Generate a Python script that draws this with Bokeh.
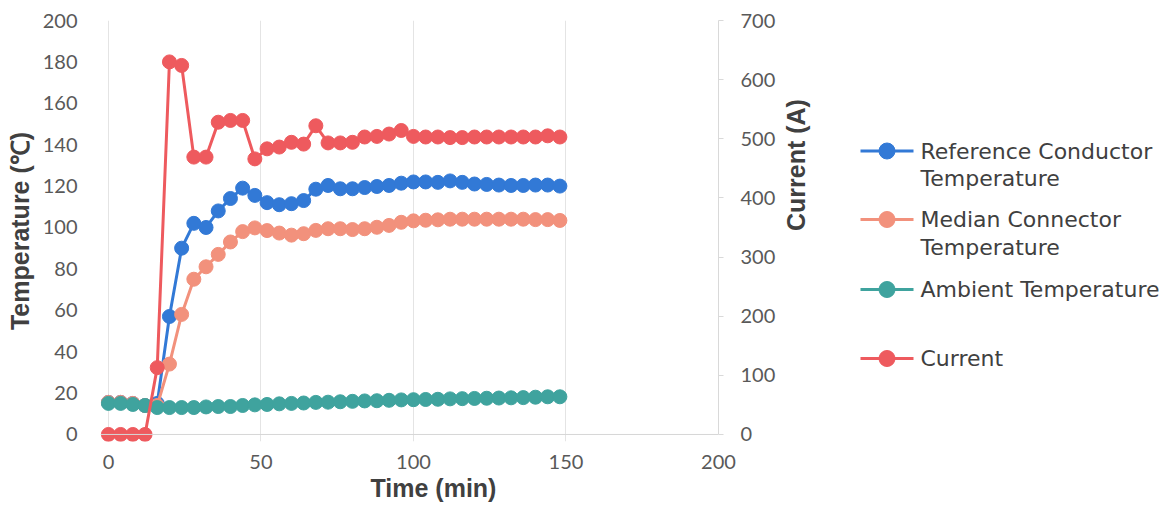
import math
from bokeh.plotting import figure
from bokeh.models import Range1d, LinearAxis, Span, Title, FixedTicker, ColumnDataSource
from bokeh.layouts import row
from bokeh.embed import file_html
from bokeh.resources import INLINE
from bokeh.core.properties import value

# ---------------- data ----------------
time_min = [0, 4, 8, 12, 16, 20, 24, 28, 32, 36, 40, 44, 48, 52, 56, 60, 64, 68, 72,
            76, 80, 84, 88, 92, 96, 100, 104, 108, 112, 116, 120, 124, 128, 132, 136,
            140, 144, 148]
ref_conductor = [15.5, 15.5, 15, 14, 15, 57, 90, 102, 100, 108, 114, 119, 115.5, 112,
                 111, 111.5, 113, 118.5, 120.3, 118.7, 118.7, 119.3, 119.8, 120.3, 121.4,
                 122, 122, 121.8, 122.5, 121.8, 121, 120.8, 120.5, 120.3, 120.3, 120.5,
                 120.5, 120]
median_connector = [15.5, 15.5, 15, 14, 14, 34, 58, 75, 81, 87, 93, 98, 99.8, 98.5, 97.3,
                    96.3, 97, 98.6, 99.4, 99.4, 99, 99.4, 100.1, 101, 102.5, 103.2, 103.5,
                    103.7, 104, 104, 104, 104, 104, 104, 104, 103.8, 103.8, 103.4]
ambient = [15, 15, 14.5, 14, 13, 13, 13, 13, 13.3, 13.5, 13.5, 14, 14.3, 14.5, 14.8, 15,
           15.2, 15.5, 15.6, 15.8, 16, 16.2, 16.3, 16.5, 16.7, 16.8, 16.9, 17, 17.2, 17.3,
           17.4, 17.5, 17.6, 17.7, 17.8, 18, 18.2, 18.2]
current = [0, 0, 0, 0, 113, 630, 624, 469, 469, 528, 531, 531, 466, 483, 486, 494, 491,
           522, 493, 493, 494, 503, 504, 508, 514, 504, 503, 503, 502, 502, 503, 503, 503,
           503, 503, 503, 505, 503]

x_ticks = [0, 50, 100, 150, 200]
temp_ticks = [0, 20, 40, 60, 80, 100, 120, 140, 160, 180, 200]
current_ticks = [0, 100, 200, 300, 400, 500, 600, 700]

legend_lines = [["Reference Conductor", "Temperature"],
                ["Median Connector", "Temperature"],
                ["Ambient Temperature"],
                ["Current"]]

# ---------------- styles ----------------
BLUE = "#3279D6"
SALMON = "#F2917C"
TEAL = "#3FA39E"
RED = "#EE5A5E"
TICK_COLOR = "#595959"
TITLE_COLOR = "#404040"
TICK_FONT = "Lato"
TITLE_FONT = "Liberation Sans"
LEGEND_FONT = "DejaVu Sans"

W_MAIN, W_LEG, H = 830, 346, 513
B_TOP, B_BOTTOM = 20, 72

# ---------------- chart ----------------
p = figure(width=W_MAIN, height=H, x_range=Range1d(-2.6, 200), y_range=Range1d(-3.4, 200),
           output_backend="svg", toolbar_location=None,
           min_border_left=100, min_border_right=112, min_border_top=B_TOP,
           min_border_bottom=B_BOTTOM)
p.outline_line_color = None
p.background_fill_color = "white"
p.border_fill_color = "white"
p.extra_y_ranges = {"current": Range1d(-3.4 * 3.5, 700)}

# grid
p.xgrid.ticker = FixedTicker(ticks=x_ticks)
p.xgrid.grid_line_color = "#e4e4e4"
p.ygrid.grid_line_color = None
p.add_layout(Span(location=0, dimension="width", line_color="#d6d6d6", line_width=1))

# bottom axis
xa = p.xaxis[0]
xa.ticker = FixedTicker(ticks=x_ticks)
xa.axis_line_color = None
xa.major_tick_line_color = None
xa.minor_tick_line_color = None
xa.major_label_standoff = 7
xa.major_label_text_font = TICK_FONT
xa.major_label_text_font_size = "20px"
xa.major_label_text_color = TICK_COLOR

p.add_layout(Title(text="Time (min)", align="left", offset=270, standoff=0,
                   text_font=TITLE_FONT, text_font_size="25px", text_font_style="bold",
                   text_color=TITLE_COLOR), "below")

# left axis
ya = p.yaxis[0]
ya.ticker = FixedTicker(ticks=temp_ticks)
ya.axis_line_color = None
ya.major_tick_line_color = None
ya.minor_tick_line_color = None
ya.major_label_standoff = 17
ya.major_label_text_font = TICK_FONT
ya.major_label_text_font_size = "20px"
ya.major_label_text_color = TICK_COLOR
ya.axis_label = "Temperature (℃)"
ya.axis_label_standoff = 6
ya.axis_label_text_font = TITLE_FONT
ya.axis_label_text_font_size = "25px"
ya.axis_label_text_font_style = "bold"
ya.axis_label_text_color = TITLE_COLOR

# right axis
ra = LinearAxis(y_range_name="current", ticker=FixedTicker(ticks=current_ticks),
                bounds=(0, 700))
ra.axis_line_color = "#d9d9d9"
ra.major_tick_line_color = "#d9d9d9"
ra.major_tick_out = 5
ra.major_tick_in = 0
ra.minor_tick_line_color = None
ra.major_label_standoff = 17
ra.major_label_text_font = TICK_FONT
ra.major_label_text_font_size = "20px"
ra.major_label_text_color = TICK_COLOR
ra.axis_label = "Current (A)"
ra.axis_label_standoff = 18
ra.axis_label_orientation = math.pi / 2
ra.axis_label_text_font = TITLE_FONT
ra.axis_label_text_font_size = "25px"
ra.axis_label_text_font_style = "bold"
ra.axis_label_text_color = TITLE_COLOR
p.add_layout(ra, "right")

src = ColumnDataSource(dict(t=time_min, ref=ref_conductor, med=median_connector,
                            amb=ambient, cur=current))

MS = 14
for col, color in (("ref", BLUE), ("med", SALMON), ("amb", TEAL)):
    p.line("t", col, source=src, line_color=color, line_width=3)
    p.scatter("t", col, source=src, size=MS, fill_color=color, line_color=color,
              line_width=1)
p.line("t", "cur", source=src, y_range_name="current", line_color=RED, line_width=3)
p.scatter("t", "cur", source=src, y_range_name="current", size=MS, fill_color=RED,
          line_color=RED, line_width=1)

# ---------------- legend panel (pixel coordinates) ----------------
lg = figure(width=W_LEG, height=H, x_range=Range1d(W_MAIN, W_MAIN + W_LEG),
            y_range=Range1d(H - B_BOTTOM, B_TOP), output_backend="svg",
            toolbar_location=None, x_axis_type=None, y_axis_type=None,
            min_border_left=0, min_border_right=0, min_border_top=B_TOP,
            min_border_bottom=B_BOTTOM)
lg.outline_line_color = None
lg.xgrid.grid_line_color = None
lg.ygrid.grid_line_color = None
lg.background_fill_color = "white"
lg.border_fill_color = "white"

item_y = [150.5, 219, 289, 358]
LINE_GAP = 27.5
colors = [BLUE, SALMON, TEAL, RED]
tx, ty, tt = [], [], []
for yy, lines in zip(item_y, legend_lines):
    for k, s in enumerate(lines):
        tx.append(920)
        ty.append(yy + k * LINE_GAP)
        tt.append(s)
lg.segment(x0=[860] * 4, x1=[913] * 4, y0=item_y, y1=item_y, line_color=colors,
           line_width=3)
lg.scatter(x=[886.5] * 4, y=item_y, size=16, fill_color=colors, line_color=colors)
lg.text(x=tx, y=ty, text=tt, text_baseline="middle", text_align="left",
        text_font=value(LEGEND_FONT), text_font_size="22px", text_color=TITLE_COLOR)

layout = row(p, lg)
open("out.html", "w").write(file_html(layout, INLINE))
